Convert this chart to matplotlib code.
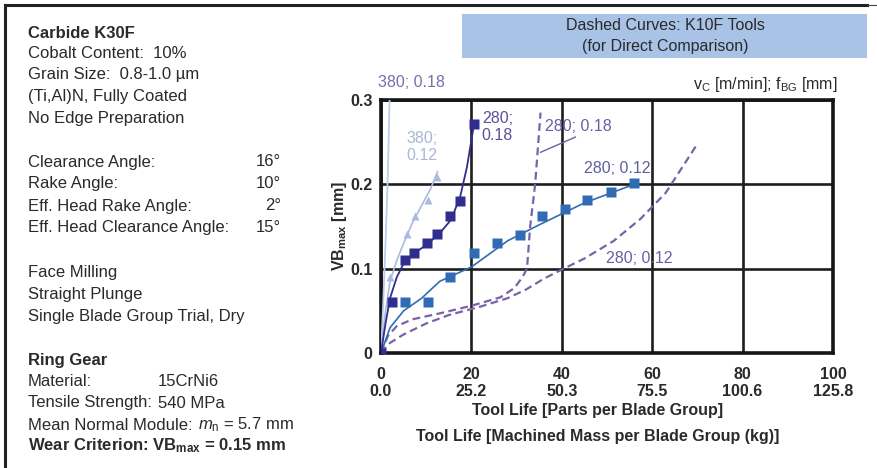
import matplotlib
matplotlib.use("Agg")
import matplotlib.pyplot as plt
from matplotlib.lines import Line2D
from matplotlib.patches import Rectangle

plt.rcParams['font.family'] = ['Liberation Sans', 'DejaVu Sans']
plt.rcParams['mathtext.fontset'] = 'custom'
plt.rcParams['mathtext.rm'] = 'Liberation Sans'
plt.rcParams['mathtext.it'] = 'Liberation Sans:italic'
plt.rcParams['mathtext.bf'] = 'Liberation Sans:bold'

W, H = 878, 468

# --- data (x = parts per blade group, y = VB_max in mm) ---
# K30F, vc=280, f=0.18 (navy squares)
k30_280_018_x = [0, 2.4, 5.3, 7.2, 10.1, 12.3, 15.3, 17.4, 20.6]
k30_280_018_y = [0, 0.06, 0.11, 0.119, 0.131, 0.141, 0.162, 0.18, 0.272]
k30_280_018_fit_x = [0, 1, 2, 3.5, 5, 7, 10, 13, 15.5, 17.5, 19, 20.6]
k30_280_018_fit_y = [0, 0.035, 0.065, 0.09, 0.106, 0.117, 0.128, 0.142, 0.158, 0.185, 0.22, 0.272]

# K30F, vc=280, f=0.12 (blue squares)
k30_280_012_x = [5.3, 10.5, 15.3, 20.5, 25.6, 30.7, 35.6, 40.8, 45.5, 50.8, 55.9]
k30_280_012_y = [0.06, 0.06, 0.09, 0.119, 0.13, 0.14, 0.162, 0.171, 0.181, 0.191, 0.201]
k30_280_012_fit_x = [0, 2, 5, 9, 13, 20, 28, 35, 45, 56]
k30_280_012_fit_y = [0, 0.03, 0.05, 0.065, 0.085, 0.102, 0.133, 0.152, 0.178, 0.2]

# K30F, vc=380, f=0.12 (light triangles)
k30_380_012_x = [2.0, 5.7, 7.5, 10.5, 12.3]
k30_380_012_y = [0.09, 0.141, 0.163, 0.181, 0.209]
k30_380_012_fit_x = [0, 1, 2, 3.5, 5, 7, 9, 11, 12.5]
k30_380_012_fit_y = [0, 0.05, 0.085, 0.11, 0.13, 0.155, 0.175, 0.195, 0.215]

# K30F, vc=380, f=0.18 (light line near the axis)
k30_380_018_fit_x = [0, 0.5, 1.0, 1.5, 1.9]
k30_380_018_fit_y = [0, 0.06, 0.13, 0.21, 0.3]

# K10F dashed curves
k10_280_018_x = [0, 1.5, 3.5, 7, 13, 20, 26.4, 29.5, 31.3, 32.3, 33.0, 34.1, 35.3]
k10_280_018_y = [0, 0.02, 0.032, 0.04, 0.047, 0.056, 0.066, 0.077, 0.09, 0.1, 0.15, 0.2, 0.285]
k10_280_012_x = [0, 2, 5, 10, 15, 22, 28, 32, 36, 40.4, 45, 51.5, 57.4, 63, 70]
k10_280_012_y = [0, 0.012, 0.022, 0.035, 0.045, 0.055, 0.065, 0.075, 0.088, 0.1, 0.112, 0.133, 0.159, 0.19, 0.248]

parts_ticks = [0, 20, 40, 60, 80, 100]
mass_ticks = ['0.0', '25.2', '50.3', '75.5', '100.6', '125.8']
vb_ticks = [0, 0.1, 0.2, 0.3]
vb_labels = ['0', '0.1', '0.2', '0.3']

left_lines = [
    ("Carbide K30F", 33, 'bold'),
    ("Cobalt Content:  10%", 53, 'normal'),
    ("Grain Size:  0.8-1.0 µm", 75, 'normal'),
    ("(Ti,Al)N, Fully Coated", 97, 'normal'),
    ("No Edge Preparation", 118, 'normal'),
    ("Clearance Angle:", 162, 'normal'),
    ("Rake Angle:", 184, 'normal'),
    ("Eff. Head Rake Angle:", 206, 'normal'),
    ("Eff. Head Clearance Angle:", 227, 'normal'),
    ("Face Milling", 273, 'normal'),
    ("Straight Plunge", 295, 'normal'),
    ("Single Blade Group Trial, Dry", 317, 'normal'),
    ("Ring Gear", 361, 'bold'),
    ("Material:", 382, 'normal'),
    ("Tensile Strength:", 403, 'normal'),
    ("Mean Normal Module:", 425, 'normal'),
    (r"Wear Criterion: $\mathbf{VB}_{\mathbf{max}}$ = 0.15 mm", 446, 'bold'),
]
angle_values = [("16°", 162), ("10°", 184), ("2°", 206), ("15°", 227)]
gear_values = [("15CrNi6", 382, 158), ("540 MPa", 403, 158), (r"$m_\mathregular{n}$ = 5.7 mm", 425, 198)]

navy = '#2f2d8e'
blue = '#2f6cb3'
light = '#a9bbe0'
lighter = '#bccbea'
purple = '#7a62a8'
txt = '#2a2a2a'


def fx(px):
    return px / W


def fy(py):
    return 1 - py / H


fig = plt.figure(figsize=(W / 100, H / 100), dpi=100)
ax = fig.add_axes([fx(381), fy(353), fx(833) - fx(381), fy(100) - fy(353)])

# dashed K10F curves
ax.plot(k10_280_018_x, k10_280_018_y, color=purple, lw=1.6, ls=(0, (3.5, 2)), zorder=3)
ax.plot(k10_280_012_x, k10_280_012_y, color=purple, lw=1.6, ls=(0, (3.5, 2)), zorder=3)

# fitted K30F curves
ax.plot(k30_380_018_fit_x, k30_380_018_fit_y, color=lighter, lw=1.3, zorder=3)
ax.plot(k30_380_012_fit_x, k30_380_012_fit_y, color=light, lw=1.2, zorder=3)
ax.plot(k30_280_012_fit_x, k30_280_012_fit_y, color=blue, lw=1.2, zorder=3)
ax.plot(k30_280_018_fit_x, k30_280_018_fit_y, color=navy, lw=1.3, zorder=3)

# measured points
ax.plot(k30_380_012_x, k30_380_012_y, '^', color=light, ms=6, mec='none', zorder=4)
ax.plot(k30_280_012_x, k30_280_012_y, 's', color=blue, ms=6.5, mec='none', zorder=4)
ax.plot(k30_280_018_x, k30_280_018_y, 's', color=navy, ms=6.5, mec='none', zorder=5)

ax.set_xlim(0, 100)
ax.set_ylim(0, 0.3)
ax.set_xticks(parts_ticks)
ax.set_xticklabels([f"{p}\n{m}" for p, m in zip(parts_ticks, mass_ticks)],
                   fontsize=11.5, fontweight='bold', color=txt, linespacing=1.2)
ax.set_yticks(vb_ticks)
ax.set_yticklabels(vb_labels, fontsize=11.5, fontweight='bold', color=txt)
ax.tick_params(axis='x', length=0, pad=10)
ax.tick_params(axis='y', length=0, pad=6)
ax.grid(True, color='#1e1e1e', lw=1.9)
ax.set_axisbelow(True)
for s in ax.spines.values():
    s.set_linewidth(2.6)
    s.set_color('#151515')

ax.set_ylabel(r"VB$_{\mathbf{max}}$ [mm]", fontsize=11.5, fontweight='bold', color=txt, labelpad=1)

# curve labels
ax.text(-0.7, 0.321, "380; 0.18", color='#7d6cae', fontsize=11.5, va='center', ha='left', clip_on=False)
ax.text(9.1, 0.244, "380;\n0.12", color='#aab6d6', fontsize=11.5, va='center', ha='center', linespacing=1.15)
ax.text(22.3, 0.268, "280;\n0.18", color='#5d4f98', fontsize=11.5, va='center', ha='left', linespacing=1.15)
ax.text(36.3, 0.269, "280; 0.18", color='#6d5ea4', fontsize=11.5, va='center', ha='left')
ax.plot([35.3, 43.0], [0.238, 0.256], color='#6d5ea4', lw=1.0)
ax.text(45.0, 0.219, "280; 0.12", color='#5f5f9a', fontsize=11.5, va='center', ha='left')
ax.text(49.8, 0.112, "280; 0.12", color='#6d5ea4', fontsize=11.5, va='center', ha='left')

# header box and units
fig.patches.append(Rectangle((fx(462), fy(58)), fx(867) - fx(462), fy(14) - fy(58),
                             transform=fig.transFigure, facecolor='#a8c3e6', edgecolor='none'))
fig.text(fx(665), fy(25), "Dashed Curves: K10F Tools", ha='center', va='center', fontsize=11.5, color=txt)
fig.text(fx(665), fy(46), "(for Direct Comparison)", ha='center', va='center', fontsize=11.5, color=txt)
fig.text(fx(838), fy(84), r"v$_\mathregular{C}$ [m/min]; f$_\mathregular{BG}$ [mm]",
         ha='right', va='center', fontsize=11.5, color=txt)

# x axis titles
fig.text(fx(598), fy(411), "Tool Life [Parts per Blade Group]", ha='center', va='center',
         fontsize=11.5, fontweight='bold', color=txt)
fig.text(fx(598), fy(437), "Tool Life [Machined Mass per Blade Group (kg)]", ha='center', va='center',
         fontsize=11.5, fontweight='bold', color=txt)

# left description block
for s, y, w in left_lines:
    fig.text(fx(28), fy(y), s, ha='left', va='center', fontsize=12, fontweight=w, color=txt)
for s, y in angle_values:
    fig.text(fx(281), fy(y), s, ha='right', va='center', fontsize=12, color=txt)
for s, y, x in gear_values:
    fig.text(fx(x), fy(y), s, ha='left', va='center', fontsize=12, color=txt)

# page frame
fig.add_artist(Line2D([fx(5), fx(867)], [fy(5), fy(5)], transform=fig.transFigure, color='#222', lw=2.2))
fig.add_artist(Line2D([fx(867), fx(878)], [fy(5), fy(5)], transform=fig.transFigure, color='#444', lw=0.8))
fig.add_artist(Line2D([fx(5), fx(5)], [fy(5), fy(468)], transform=fig.transFigure, color='#222', lw=2.2))

fig.savefig("out.png", dpi=100)
